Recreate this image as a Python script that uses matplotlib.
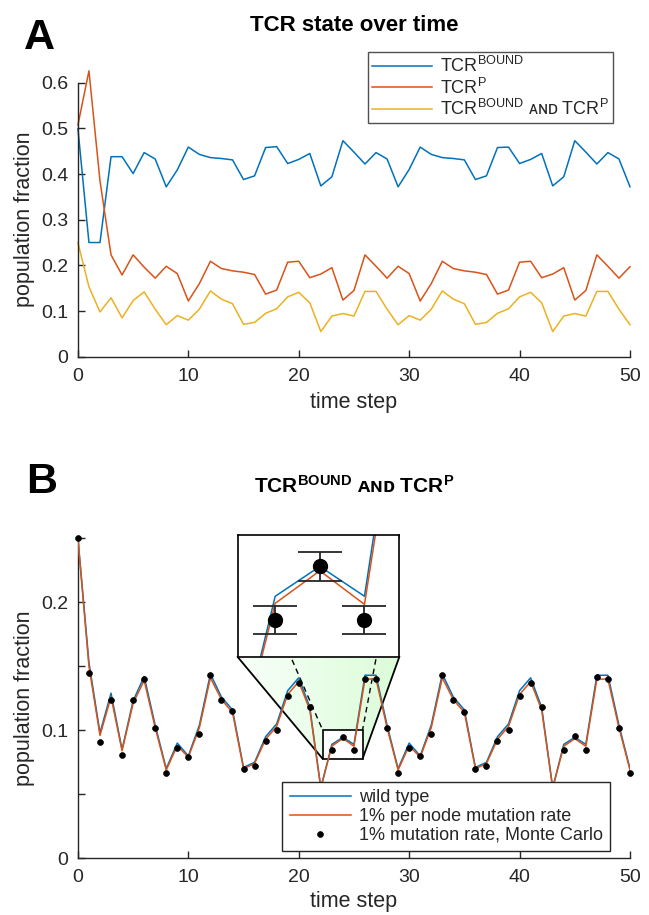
import numpy as np
import matplotlib
matplotlib.use('Agg')
import matplotlib.pyplot as plt
from matplotlib.patches import Polygon, Rectangle
from matplotlib.ticker import FuncFormatter

plt.rcParams['font.family'] = ['Liberation Sans', 'DejaVu Sans']
plt.rcParams['mathtext.fontset'] = 'custom'
plt.rcParams['mathtext.rm'] = 'Liberation Sans'
plt.rcParams['mathtext.it'] = 'Liberation Sans:italic'
plt.rcParams['mathtext.bf'] = 'Liberation Sans:bold'

# ---------------- data ----------------
steps = list(range(51))

tcr_bound = [0.500, 0.250, 0.250, 0.438, 0.438, 0.401, 0.447, 0.433, 0.372, 0.409,
             0.459, 0.443, 0.436, 0.434, 0.431, 0.388, 0.396, 0.458, 0.460, 0.423,
             0.432, 0.445, 0.374, 0.394, 0.473, 0.448, 0.422, 0.447, 0.433, 0.372,
             0.410, 0.459, 0.443, 0.436, 0.434, 0.431, 0.388, 0.396, 0.458, 0.459,
             0.423, 0.432, 0.445, 0.374, 0.394, 0.473, 0.448, 0.422, 0.447, 0.433,
             0.372]

tcr_p = [0.507, 0.626, 0.385, 0.223, 0.179, 0.223, 0.196, 0.172, 0.198, 0.182,
         0.122, 0.160, 0.209, 0.193, 0.188, 0.185, 0.180, 0.137, 0.146, 0.207,
         0.209, 0.173, 0.181, 0.195, 0.124, 0.145, 0.223, 0.198, 0.172, 0.198,
         0.182, 0.122, 0.160, 0.209, 0.193, 0.188, 0.185, 0.180, 0.137, 0.146,
         0.207, 0.209, 0.173, 0.181, 0.195, 0.124, 0.145, 0.223, 0.198, 0.172,
         0.197]

# TCR^BOUND AND TCR^P  (= wild type in panel B)
tcr_both = [0.250, 0.153, 0.098, 0.129, 0.085, 0.123, 0.142, 0.104, 0.070, 0.090,
            0.080, 0.104, 0.144, 0.126, 0.116, 0.071, 0.075, 0.095, 0.105, 0.131,
            0.141, 0.118, 0.055, 0.089, 0.0945, 0.089, 0.143, 0.143, 0.104, 0.070,
            0.090, 0.080, 0.104, 0.144, 0.126, 0.116, 0.071, 0.075, 0.095, 0.105,
            0.131, 0.141, 0.118, 0.055, 0.089, 0.0945, 0.089, 0.143, 0.143, 0.104,
            0.070]

mutation_1pct = [0.250, 0.150, 0.096, 0.126, 0.084, 0.121, 0.139, 0.102, 0.069, 0.088,
                 0.079, 0.102, 0.141, 0.124, 0.114, 0.070, 0.074, 0.093, 0.103, 0.128,
                 0.138, 0.116, 0.055, 0.0877, 0.0937, 0.0875, 0.140, 0.140, 0.102, 0.069,
                 0.088, 0.079, 0.102, 0.141, 0.124, 0.114, 0.070, 0.074, 0.093, 0.103,
                 0.128, 0.138, 0.116, 0.055, 0.0875, 0.0935, 0.0875, 0.140, 0.140, 0.102,
                 0.069]

monte_carlo = [0.250, 0.145, 0.091, 0.124, 0.081, 0.124, 0.140, 0.102, 0.067, 0.086,
               0.079, 0.097, 0.143, 0.124, 0.115, 0.070, 0.072, 0.092, 0.100, 0.127,
               0.137, 0.118, 0.056, 0.0846, 0.0945, 0.0846, 0.140, 0.140, 0.102, 0.067,
               0.086, 0.080, 0.097, 0.1435, 0.124, 0.1145, 0.070, 0.072, 0.092, 0.100,
               0.127, 0.137, 0.118, 0.056, 0.0843, 0.0955, 0.0843, 0.142, 0.140, 0.102,
               0.067]

inset_steps = [23, 24, 25]
inset_mc = [0.0846, 0.0945, 0.0846]
inset_err = [0.0026, 0.0027, 0.0026]

xticks = [0, 10, 20, 30, 40, 50]
yticks_a = [0, 0.1, 0.2, 0.3, 0.4, 0.5, 0.6]
yticks_b = [0, 0.05, 0.1, 0.15, 0.2, 0.25]
yticklabels_b = ['0', '', '0.1', '', '0.2', '']

# ---------------- style ----------------
BLUE = '#0072BD'
ORANGE = '#D95319'
YELLOW = '#EDB120'
AX = '#262626'
W, H = 649, 915

fig = plt.figure(figsize=(W / 100, H / 100), dpi=100)


def px_rect(left, top, right, bottom):
    return [left / W, 1 - bottom / H, (right - left) / W, (bottom - top) / H]


def style_axes(ax):
    for s in ['top', 'right']:
        ax.spines[s].set_visible(False)
    for s in ['left', 'bottom']:
        ax.spines[s].set_color(AX)
        ax.spines[s].set_linewidth(1.0)
    ax.tick_params(direction='in', length=4.8, width=1.0, color=AX,
                   labelcolor=AX, labelsize=14)
    ax.tick_params(axis='y', pad=7)
    ax.tick_params(axis='x', pad=8)


fmt = FuncFormatter(lambda v, p: '%g' % v)

# ---------------- panel A ----------------
axA = fig.add_axes(px_rect(77.9, 82.7, 630, 356.7))
style_axes(axA)
lw = 1.1
axA.plot(steps, tcr_bound, color=BLUE, lw=lw, clip_on=False,
         label=r'TCR$^{\mathrm{BOUND}}$')
axA.plot(steps, tcr_p, color=ORANGE, lw=lw, clip_on=False,
         label=r'TCR$^{\mathrm{P}}$')
axA.plot(steps, tcr_both, color=YELLOW, lw=lw, clip_on=False,
         label=r'TCR$^{\mathrm{BOUND}}$ ᴀɴᴅ TCR$^{\mathrm{P}}$')
axA.set_xlim(0, 50)
axA.set_ylim(0, 0.6)
axA.set_xticks(xticks)
axA.set_yticks(yticks_a)
axA.yaxis.set_major_formatter(fmt)
axA.set_xlabel('time step', fontsize=15.5, color=AX, labelpad=5)
axA.set_ylabel('population fraction', fontsize=15.5, color=AX, labelpad=4)
legA = axA.legend(loc='upper left', bbox_to_anchor=(368.3 / W, 1 - 52 / H),
                  bbox_transform=fig.transFigure, fontsize=13, frameon=True,
                  fancybox=False, borderaxespad=0, borderpad=0.22,
                  handlelength=3.3, handletextpad=0.45, labelspacing=0.08)
legA.get_frame().set_edgecolor(AX)
legA.get_frame().set_linewidth(1.0)
for txt in legA.get_texts():
    txt.set_color(AX)

fig.text(354 / W, 1 - 31 / H, 'TCR state over time', ha='center', va='baseline',
         fontsize=16, fontweight='bold', color='black')
fig.text(24 / W, 1 - 49 / H, 'A', ha='left', va='baseline', fontsize=31,
         fontweight='bold', family=['Liberation Sans Narrow', 'Liberation Sans'])

# ---------------- panel B ----------------
axB = fig.add_axes(px_rect(77.9, 538.3, 630, 858.3))
style_axes(axB)
axB.plot(steps, tcr_both, color=BLUE, lw=lw, label='wild type', zorder=3)
axB.plot(steps, mutation_1pct, color=ORANGE, lw=lw,
         label='1% per node mutation rate', zorder=3.1)
axB.plot(steps, monte_carlo, 'o', color='black', ms=4.2, mec='black', mew=0.5,
         label='1% mutation rate, Monte Carlo', zorder=3.2, clip_on=False)
axB.set_xlim(0, 50)
axB.set_ylim(0, 0.25)
axB.set_xticks(xticks)
axB.set_yticks(yticks_b)
axB.set_yticklabels(yticklabels_b)
axB.set_xlabel('time step', fontsize=15.5, color=AX, labelpad=3.5)
axB.set_ylabel('population fraction', fontsize=15.5, color=AX, labelpad=4)

legB = axB.legend(loc='upper left', bbox_to_anchor=(282.3 / W, 1 - 782 / H),
                  bbox_transform=fig.transFigure, fontsize=13, frameon=True,
                  fancybox=False, borderaxespad=0, borderpad=0.4,
                  handlelength=3.4, handletextpad=0.45, labelspacing=0.1,
                  numpoints=1, framealpha=1)
legB.get_frame().set_edgecolor(AX)
legB.get_frame().set_linewidth(1.0)
legB.set_zorder(10)
for txt in legB.get_texts():
    txt.set_color(AX)

fig.text(354 / W, 1 - 493 / H, r'TCR$^{\mathbf{BOUND}}$ ᴀɴᴅ TCR$^{\mathbf{P}}$',
         ha='center', va='baseline', fontsize=15, fontweight='bold', color='black')
fig.text(26 / W, 1 - 493 / H, 'B', ha='left', va='baseline', fontsize=31,
         fontweight='bold', family=['Liberation Sans Narrow', 'Liberation Sans'])

# ---------------- inset ----------------
in_xlim = (22.16, 25.78)
in_ylim = (0.0778, 0.1003)
axIn = fig.add_axes(px_rect(237.7, 535, 399.3, 657))
axIn.set_facecolor('white')
axIn.plot(steps, tcr_both, color=BLUE, lw=lw)
axIn.plot(steps, mutation_1pct, color=ORANGE, lw=lw)
axIn.errorbar(inset_steps, inset_mc, yerr=inset_err, fmt='o', color='black',
              ms=10, ecolor=AX, elinewidth=1.3, capsize=16, capthick=1.3)
axIn.set_xlim(*in_xlim)
axIn.set_ylim(*in_ylim)
axIn.set_xticks([])
axIn.set_yticks([])
for s in axIn.spines.values():
    s.set_color('black')
    s.set_linewidth(1.2)

# zoom rectangle in panel B
rect = Rectangle((in_xlim[0], in_ylim[0]), in_xlim[1] - in_xlim[0],
                 in_ylim[1] - in_ylim[0], facecolor='white', edgecolor='black',
                 lw=1.2, zorder=1)
axB.add_patch(rect)

inv = axB.transData.inverted()


def inset_corner(cx, cy):
    return inv.transform(axIn.transAxes.transform((cx, cy)))


bl = inset_corner(0, 0)
br = inset_corner(1, 0)
tl = inset_corner(0, 1)
tr = inset_corner(1, 1)
r_bl = (in_xlim[0], in_ylim[0])
r_br = (in_xlim[1], in_ylim[0])
r_tl = (in_xlim[0], in_ylim[1])
r_tr = (in_xlim[1], in_ylim[1])

poly = Polygon([bl, br, r_br, r_bl], closed=True, facecolor='none',
               edgecolor='none', zorder=0.5)
axB.add_patch(poly)
g = np.linspace(0, 1, 256)[:, None]
c0 = np.array([0.975, 1.0, 0.975])
c1 = np.array([0.86, 0.99, 0.85])
grad = ((1 - g) * c0 + g * c1)[None, :, :]
img = axB.imshow(grad, extent=(bl[0], br[0], r_bl[1], bl[1]), aspect='auto',
                 zorder=0.5, interpolation='bilinear')
img.set_clip_path(poly)

axB.plot([bl[0], r_bl[0]], [bl[1], r_bl[1]], color='black', lw=1.3, zorder=2,
         clip_on=False)
axB.plot([br[0], r_br[0]], [br[1], r_br[1]], color='black', lw=1.3, zorder=2,
         clip_on=False)
axB.plot([tl[0], r_tl[0]], [tl[1], r_tl[1]], color='black', lw=1.0, ls=(0, (4, 3)),
         zorder=2, clip_on=False)
axB.plot([tr[0], r_tr[0]], [tr[1], r_tr[1]], color='black', lw=1.0, ls=(0, (4, 3)),
         zorder=2, clip_on=False)
axB.set_xlim(0, 50)
axB.set_ylim(0, 0.25)

fig.savefig('out.png', dpi=100)
